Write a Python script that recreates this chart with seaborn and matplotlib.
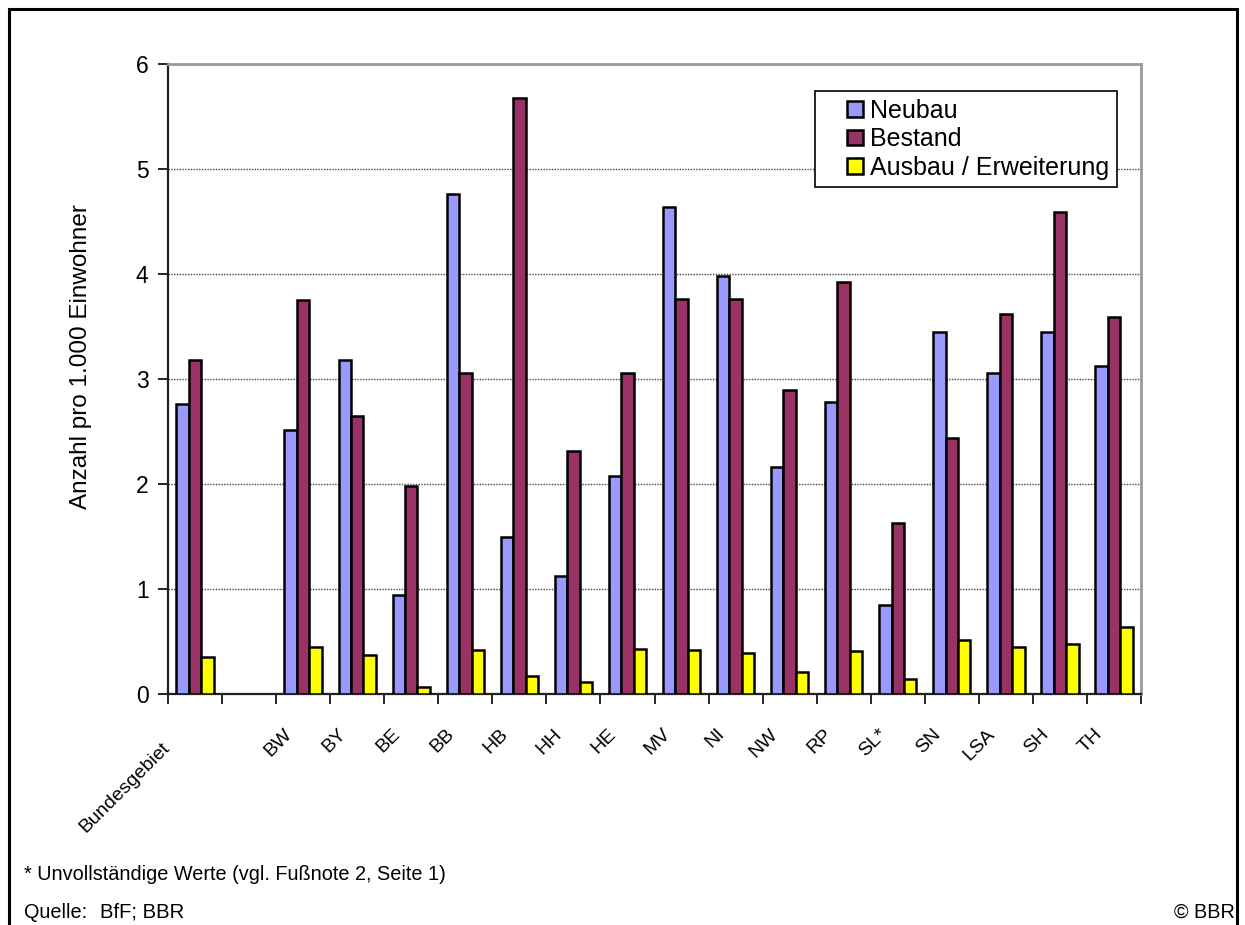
import numpy as np
import pandas as pd
import seaborn as sns
import matplotlib
matplotlib.use("Agg")
import matplotlib.pyplot as plt
from matplotlib.patches import Rectangle
from matplotlib.ticker import FixedLocator
from matplotlib.legend_handler import HandlerPatch
import matplotlib.transforms as mtransforms

# Länder (with a blank slot after the national total)
categories = ["Bundesgebiet", " ", "BW", "BY", "BE", "BB", "HB", "HH", "HE",
              "MV", "NI", "NW", "RP", "SL*", "SN", "LSA", "SH", "TH"]
tick_labels = ["Bundesgebiet", "", "BW", "BY", "BE", "BB", "HB", "HH", "HE",
               "MV", "NI", "NW", "RP", "SL*", "SN", "LSA", "SH", "TH"]

neubau = [2.76, np.nan, 2.51, 3.18, 0.94, 4.76, 1.50, 1.12, 2.08,
          4.64, 3.98, 2.16, 2.78, 0.85, 3.45, 3.06, 3.45, 3.12]
bestand = [3.18, np.nan, 3.75, 2.65, 1.98, 3.06, 5.68, 2.31, 3.06,
           3.76, 3.76, 2.90, 3.92, 1.63, 2.44, 3.62, 4.59, 3.59]
ausbau = [0.35, np.nan, 0.45, 0.37, 0.07, 0.42, 0.17, 0.11, 0.43,
          0.42, 0.39, 0.21, 0.41, 0.14, 0.51, 0.45, 0.48, 0.64]

series = ["Neubau", "Bestand", "Ausbau / Erweiterung"]
colors = ["#9999FF", "#993366", "#FFFF00"]

df = pd.DataFrame({
    "Land": categories * 3,
    "Art": [s for s in series for _ in categories],
    "Wert": neubau + bestand + ausbau,
})

sns.set_theme(style="white")
plt.rcParams["font.family"] = ["Liberation Sans", "DejaVu Sans"]
plt.rcParams.update({"text.color": "black", "axes.labelcolor": "black",
                     "xtick.color": "black", "ytick.color": "black"})

fig = plt.figure(figsize=(12.45, 9.25), dpi=100)
ax = fig.add_axes([168 / 1245, 1 - 694 / 925, (1141 - 168) / 1245, (694 - 64) / 925])

sns.barplot(data=df, x="Land", y="Wert", hue="Art", order=categories,
            hue_order=series, palette=colors, width=0.69, errorbar=None,
            edgecolor="black", linewidth=1.8, saturation=1, ax=ax, zorder=3)

ax.set_xlim(-0.5, len(categories) - 0.5)
ax.set_ylim(0, 6)
ax.set_yticks(range(0, 7))
ax.set_yticklabels([str(v) for v in range(0, 7)], fontsize=16.5)
ax.tick_params(axis="y", direction="out", length=7, width=1.2, color="black",
               pad=7, left=True)

# horizontal dotted grid
for yv in range(1, 6):
    ax.axhline(yv, color="#444444", linewidth=1.0, linestyle=(0, (1, 1)), zorder=1)

# category labels at the centres, tick marks between categories
ax.set_xticks(range(len(categories)))
ax.set_xticklabels(tick_labels, fontsize=14, rotation=45, ha="right",
                   va="center", rotation_mode="anchor")
ax.tick_params(axis="x", which="major", length=0, pad=27)
ax.xaxis.set_minor_locator(FixedLocator(np.arange(-0.5, len(categories), 1.0)))
ax.tick_params(axis="x", which="minor", direction="out", length=7, width=1.2,
               color="black", bottom=True)
for i, lbl in enumerate(ax.get_xticklabels()):
    # longer names sit a little further down and to the left
    extra = 14 if len(tick_labels[i]) > 5 else 0
    offset = mtransforms.ScaledTranslation((-14 - extra) / 100, -extra / 100,
                                           fig.dpi_scale_trans)
    lbl.set_transform(lbl.get_transform() + offset)

ax.set_xlabel("")
ax.set_ylabel("Anzahl pro 1.000 Einwohner", fontsize=17.5)
ax.yaxis.set_label_coords(-0.078, 0.535)

for side in ["left", "bottom"]:
    ax.spines[side].set_color("#222222")
    ax.spines[side].set_linewidth(1.6)
for side in ["top", "right"]:
    ax.spines[side].set_color("#999999")
    ax.spines[side].set_linewidth(2.0)
    ax.spines[side].set_visible(True)


def square_key(legend, orig_handle, xdescent, ydescent, width, height, fontsize):
    # small square swatch placed at the right end of the handle box
    s = 0.62 * fontsize
    return Rectangle((-xdescent + width - s, -ydescent + (height - s) / 2), s, s)


handles, labels = ax.get_legend_handles_labels()
leg = ax.legend(handles, labels, loc="upper right", bbox_to_anchor=(0.975, 0.957),
                fontsize=18, frameon=True, fancybox=False, edgecolor="black",
                framealpha=1, handlelength=1.6, handleheight=0.7,
                handletextpad=0.3, labelspacing=0.18, borderpad=0.3,
                borderaxespad=0,
                handler_map={h: HandlerPatch(patch_func=square_key) for h in handles})
leg.get_frame().set_linewidth(1.2)
leg.set_zorder(5)

# outer chart frame
fig.patches.append(Rectangle((9 / 1245, -0.01), (1237 - 9) / 1245, 1 - 9 / 925 + 0.01,
                             transform=fig.transFigure, fill=False,
                             edgecolor="black", linewidth=2.2))

fig.text(24 / 1245, 1 - 875 / 925, "* Unvollständige Werte (vgl. Fußnote 2, Seite 1)",
         fontsize=14.3, va="center", ha="left")
fig.text(24 / 1245, 1 - 912 / 925, "Quelle:", fontsize=14.3, va="center", ha="left")
fig.text(100 / 1245, 1 - 912 / 925, "BfF; BBR", fontsize=14.6, va="center", ha="left")
fig.text(1235 / 1245, 1 - 912 / 925, "© BBR", fontsize=14.3, va="center", ha="right")

fig.savefig("out.png", dpi=100)
